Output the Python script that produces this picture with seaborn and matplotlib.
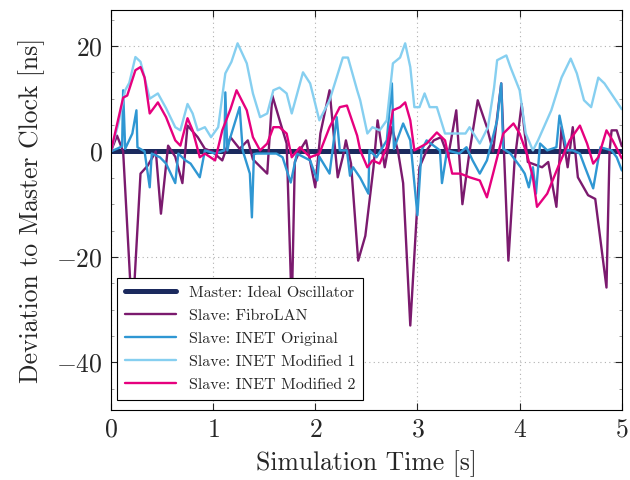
import numpy as np
import pandas as pd
import matplotlib.pyplot as plt
import seaborn as sns
from matplotlib.ticker import MultipleLocator

sns.set_style('ticks')
plt.rcParams['font.family'] = ['cmr10', 'DejaVu Serif']
plt.rcParams['mathtext.fontset'] = 'cm'
plt.rcParams['axes.formatter.use_mathtext'] = True

# time positions (seconds) and deviation in ns
t_fibro = [0.00, 0.06, 0.12, 0.21, 0.29, 0.36, 0.44, 0.49, 0.56, 0.63, 0.70, 0.75, 0.85, 0.92,
           0.99, 1.09, 1.17, 1.26, 1.34, 1.39, 1.53, 1.58, 1.65, 1.72, 1.77, 1.80, 1.85, 1.91,
           2.00, 2.05, 2.14, 2.22, 2.27, 2.30, 2.35, 2.42, 2.49, 2.57, 2.61, 2.68, 2.75, 2.81,
           2.86, 2.93, 3.02, 3.09, 3.16, 3.23, 3.30, 3.38, 3.44, 3.51, 3.59, 3.68, 3.74, 3.82,
           3.89, 3.95, 4.02, 4.08, 4.22, 4.28, 4.36, 4.41, 4.47, 4.52, 4.57, 4.67, 4.74, 4.85,
           4.88, 4.90, 4.95, 5.00]
y_fibro = [0, 3, 0, -32, -4.2, -2.7, 0, -11.8, 1.1, -1, -6, 4.9, 2.7, 0.5,
           0, -1.7, 2.7, 0.5, 2.1, -1.5, -4.2, 10.6, 6, 1.5, -30, -2, 0.2, 2.1,
           -6.8, 3.4, 11.6, -4.9, -1, 2.1, -2.3, -20.7, -16, -3, 5.9, -3, 4.6, 0,
           -6, -33, -3, 0.2, 2.1, 2.7, -1, 7.8, -10, 0, 9.7, 4.6, 0, 12.9,
           -20.7, -2, 9, -2, -3, -2, -10.5, 4.6, -3, 4.6, -4.9, -8.3, -9, -25.8,
           0, 4, 4, 1]

t_orig = [0.00, 0.07, 0.11, 0.12, 0.14, 0.21, 0.25, 0.26, 0.33, 0.38, 0.40, 0.48, 0.54, 0.63,
          0.66, 0.73, 0.78, 0.87, 0.92, 1.02, 1.11, 1.12, 1.14, 1.16, 1.26, 1.29, 1.36, 1.38,
          1.40, 1.43, 1.62, 1.68, 1.76, 1.82, 1.95, 2.02, 2.04, 2.14, 2.21, 2.24, 2.31, 2.34,
          2.37, 2.44, 2.52, 2.53, 2.60, 2.70, 2.75, 2.77, 2.86, 2.93, 3.00, 3.04, 3.09, 3.22,
          3.24, 3.29, 3.41, 3.48, 3.54, 3.61, 3.68, 3.78, 3.82, 3.84, 3.91, 4.01, 4.05, 4.09,
          4.13, 4.16, 4.20, 4.27, 4.36, 4.39, 4.46, 4.52, 4.59, 4.64, 4.72, 4.79, 4.90, 4.95,
          5.00]
y_orig = [0, 0.6, 1, 11.6, 0.5, 3.4, 7.8, 0.8, 0, -6.8, -0.4, -1.1, -2.3, -6,
          -0.4, -1.7, -2.3, -4.9, 0.2, -0.4, 0.2, 11.2, 0.2, 2.1, 8.4, 0.2, -4.2, -12.5,
          -0.5, -0.4, -0.4, -1.1, -5.9, -0.4, -1.7, -5.5, -1, -4.2, 6.5, 0.2, 0.2, -4.6,
          -3, -5, -8, 0.2, -1.1, 2.1, 12.9, 0.5, 5.3, 2.1, -12.1, 0.2, 2.1, 0.2,
          -6, 0.2, -0.4, 0.8, -1.7, -4.2, -1.7, 5.9, 12.9, 0.5, -0.4, -3, -4.2, -6.8,
          -3, -8, 1.5, 0.2, 0.8, 6.8, 0.2, 0.2, -0.4, -3, -7, 0.8, 0.2, -1.1,
          -3.6]

t_mod1 = [0.00, 0.07, 0.14, 0.18, 0.24, 0.29, 0.33, 0.38, 0.46, 0.54, 0.63, 0.68, 0.75, 0.80,
          0.85, 0.92, 0.98, 1.05, 1.12, 1.18, 1.24, 1.33, 1.39, 1.46, 1.53, 1.59, 1.65, 1.72,
          1.77, 1.88, 1.95, 2.04, 2.14, 2.27, 2.32, 2.41, 2.44, 2.51, 2.56, 2.63, 2.70, 2.76,
          2.83, 2.88, 2.93, 2.97, 3.02, 3.07, 3.12, 3.19, 3.27, 3.37, 3.47, 3.51, 3.61, 3.69,
          3.75, 3.78, 3.87, 3.91, 4.00, 4.06, 4.13, 4.18, 4.31, 4.41, 4.50, 4.56, 4.63, 4.70,
          4.77, 4.83, 5.00]
y_mod1 = [0, 5, 11.6, 13, 17.9, 17, 14, 10, 11, 8.2, 4.6, 4, 9, 7.2,
          4, 4.6, 2.7, 4.6, 14.8, 17, 20.5, 16.7, 11, 6.5, 7.2, 11.6, 12.1, 11,
          7.2, 15, 12.9, 5.9, 9.7, 17.8, 17.8, 11.6, 9.7, 3.4, 4.6, 4, 5.9, 16.7,
          17.8, 20.5, 16, 8.4, 8.4, 11, 8.4, 8.4, 3.4, 3.4, 3.4, 4.6, 1.5, 4.6,
          12.1, 17.3, 18.2, 16, 11.6, 3.4, 0.2, 2.1, 7.8, 14, 17.6, 14.8, 9.7, 8.4,
          14, 12.9, 8]

t_mod2 = [0.00, 0.12, 0.16, 0.24, 0.29, 0.33, 0.38, 0.46, 0.54, 0.63, 0.68, 0.75, 0.80, 0.87,
          0.92, 1.02, 1.09, 1.17, 1.23, 1.33, 1.39, 1.46, 1.53, 1.59, 1.65, 1.72, 1.77, 1.85,
          1.95, 2.04, 2.14, 2.24, 2.31, 2.41, 2.44, 2.51, 2.56, 2.63, 2.70, 2.76, 2.83, 2.88,
          2.93, 2.97, 3.09, 3.19, 3.27, 3.34, 3.42, 3.51, 3.61, 3.68, 3.74, 3.84, 3.94, 4.00,
          4.07, 4.13, 4.17, 4.27, 4.39, 4.49, 4.59, 4.66, 4.72, 4.77, 4.85, 4.91, 5.00]
y_mod2 = [0, 10.2, 10.6, 15.4, 16, 14, 7.2, 9.3, 6.5, 2.1, 1.1, 6.3, 4, -1.1,
          -0.4, -1.7, 4, 8, 11.6, 7.8, 2.7, 0.2, 1.5, 4.6, 4.6, 3.4, -1.1, 0.8,
          -1.1, -0.4, 4.6, 8.4, 8.7, 3, 0.2, -3, -1.7, -2.3, 0.8, 7.8, 8.4, 9.3,
          5.9, 0.2, 1.5, 3.6, 2.1, -4.2, -4.2, -4.9, -5.5, -8.7, -4.2, 3.4, 5.3, 3.4,
          -0.4, -4.9, -10.5, -8, -2.3, 2.1, 4.9, 1.5, -2.3, -1.1, 4, 2.1, -1.3]

t_master = [0.0, 5.0]
y_master = [0.0, 0.0]

series = [
    ('Master: Ideal Oscillator', t_master, y_master, '#1b2a5e', 3.6),
    ('Slave: FibroLAN', t_fibro, y_fibro, '#7b1a6e', 1.7),
    ('Slave: INET Original', t_orig, y_orig, '#2f97d3', 1.7),
    ('Slave: INET Modified 1', t_mod1, y_mod1, '#86cff0', 1.7),
    ('Slave: INET Modified 2', t_mod2, y_mod2, '#e6007e', 1.7),
]

fig, ax = plt.subplots(figsize=(6.3, 4.8), dpi=100)
fig.subplots_adjust(left=0.176, right=0.987, top=0.979, bottom=0.146)

for name, t, y, c, lw in series:
    df = pd.DataFrame({'t': t, 'y': y})
    sns.lineplot(data=df, x='t', y='y', color=c, linewidth=lw, label=name,
                 sort=False, estimator=None, ax=ax)

ax.set_xlim(0, 5)
ax.set_ylim(-49, 26.8)
ax.xaxis.set_major_locator(MultipleLocator(1))
ax.yaxis.set_major_locator(MultipleLocator(20))
ax.yaxis.set_minor_locator(MultipleLocator(5))
ax.grid(True, which='major', linestyle=(0, (1, 3)), color='#b0b0b0', linewidth=0.8)
ax.tick_params(which='both', direction='in', top=True, right=True, labelsize=18.5, pad=6)
ax.tick_params(which='major', length=5, width=0.8)
ax.tick_params(which='minor', length=2.5, width=0.5, color='#777777')
for s in ax.spines.values():
    s.set_linewidth(0.8)
    s.set_color('black')

ax.set_xlabel('Simulation Time [s]', fontsize=18.5, labelpad=6)
ax.set_ylabel('Deviation to Master Clock [ns]', fontsize=18.5, labelpad=8)

leg = ax.legend(loc='lower left', bbox_to_anchor=(0.012, 0.025), fontsize=11.5,
                fancybox=False, framealpha=1, edgecolor='black', handlelength=3.2,
                borderaxespad=0, labelspacing=0.55, borderpad=0.5)
leg.get_frame().set_linewidth(0.8)

plt.savefig('out.png', dpi=100)
